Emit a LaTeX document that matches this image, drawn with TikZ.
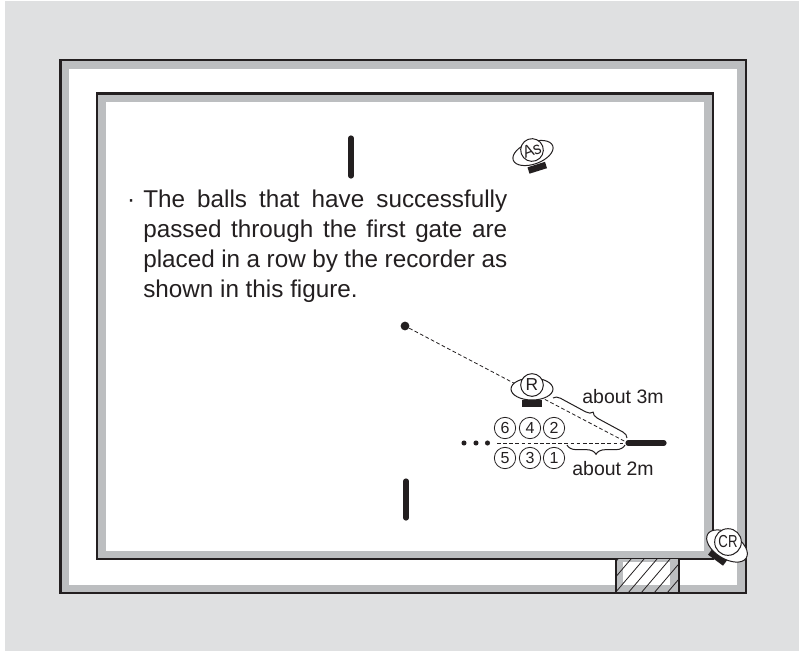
\documentclass[tikz,border=0pt]{standalone}
\usepackage{fontspec}
\setmainfont{Liberation Sans}
\usetikzlibrary{shapes.geometric,decorations.pathreplacing}
\definecolor{pagegray}{HTML}{DFE0E1}
\definecolor{bandgray}{HTML}{BCBEC0}
\definecolor{inkblack}{HTML}{231F20}
\begin{document}
\begin{tikzpicture}[x=0.75pt, y=-0.75pt, every node/.style={font=\fontsize{14.6pt}{18pt}\selectfont, text=inkblack, inner sep=0pt},
	frameline/.style={draw=inkblack, line width=1.9pt},
	gatebar/.style={inkblack, line width=3.9pt, line cap=round},
	markbar/.style={inkblack, line width=5pt},
	flight/.style={inkblack, line width=0.6pt, dash pattern=on 2.8pt off 1.8pt},
	bodyshape/.style={ellipse, draw=inkblack, fill=white, line width=0.75pt, minimum width=31.5pt, minimum height=16.5pt},
	headshape/.style={circle, draw=inkblack, fill=white, line width=0.75pt, minimum size=17pt, font=\fontsize{13pt}{14pt}\selectfont},
	ballno/.style={circle, draw=inkblack, line width=0.6pt, minimum size=16pt, font=\fontsize{12pt}{13pt}\selectfont},
	bracket/.style={draw=inkblack, line width=0.75pt, decorate, decoration={brace, amplitude=5pt}}]
	\useasboundingbox (0,0) rectangle (799,651);
	\fill[pagegray] (5,1) rectangle (799,651);
	% court frames
	\fill[bandgray] (60.5,60) rectangle (746,593);
	\fill[white] (69,69) rectangle (737,585);
	\fill[bandgray] (97,93.5) rectangle (713,559);
	\fill[white] (105.5,102) rectangle (704,551);
	\draw[frameline] (60.5,60) rectangle (746,593);
	\draw[frameline] (97,93.5) rectangle (713,559);
	% hatched part
	\fill[bandgray] (616,559) rectangle (679,593);
	\fill[white] (623,562) rectangle (670,585);
	\begin{scope}
		\clip (616,559) rectangle (679,593);
		\foreach \x in {576,589,...,680} {
			\draw[inkblack, line width=0.6pt] (\x,593) -- (\x+29,559);
		}
	\end{scope}
	\draw[inkblack, line width=0.9pt] (616,559) -- (616,593) (679,559) -- (679,593);
	\draw[frameline] (615,593) -- (680,593);
	% gates
	\coordinate (gateAtop) at (351,138);
	\coordinate (gateAbot) at (351,176);
	\coordinate (gateBtop) at (406,481);
	\coordinate (gateBbot) at (406,518);
	\coordinate (gateCleft) at (628,443);
	\coordinate (gateCright) at (664,443);
	\draw[gatebar] (gateAtop) -- (gateAbot);
	\draw[gatebar] (gateBtop) -- (gateBbot);
	% ball lines
	\node[circle, fill=inkblack, minimum size=6.6pt] (ball) at (405,326) {};
	\coordinate (rowEnd) at (497,443);
	\draw[flight] (ball) -- (gateCleft);
	\draw[flight] (rowEnd) -- (gateCleft);
	\draw[gatebar] (gateCleft) -- (gateCright);
	\foreach \x/\n in {464/a, 476/b, 487.5/c} {
		\node[circle, fill=inkblack, minimum size=3.8pt] (dot\n) at (\x,443) {};
	}
	% balls in a row
	\foreach \n/\x/\y in {6/505/428, 4/530/428, 2/554/428, 5/505/458, 3/530/458, 1/554/458} {
		\node[ballno] (no\n) at (\x,\y) {\n};
	}
	% recorder
	\coordinate (barRa) at (522,403.5);
	\coordinate (barRb) at (542,403.5);
	\draw[markbar] (barRa) -- (barRb);
	\node[bodyshape] (bodyR) at (532,389) {};
	\node[headshape] (headR) at (532,385) {R};
	% assistant
	\coordinate (barAa) at (528.5,170.5);
	\coordinate (barAb) at (546,165);
	\draw[markbar] (barAa) -- (barAb);
	\node[bodyshape, rotate=20] (bodyAs) at (533,153) {};
	\node[headshape, rotate=20] (headAs) at (532,150) {\scalebox{0.9}[1]{As}};
	% chief recorder
	\coordinate (barCa) at (710,552);
	\coordinate (barCb) at (725,563);
	\draw[markbar] (barCa) -- (barCb);
	\node[bodyshape, rotate=-32, minimum width=34pt, minimum height=19pt] (bodyCR) at (727,546) {};
	\node[headshape, minimum size=20pt] (headCR) at (728,542) {\scalebox{0.76}[1]{CR}};
	% distances
	\coordinate (braceAa) at (553,398);
	\coordinate (braceAb) at (627,438);
	\coordinate (braceBa) at (567,445);
	\coordinate (braceBb) at (625,445);
	\draw[bracket] (braceAa) -- (braceAb);
	\draw[bracket, decoration={amplitude=7pt}] (braceBb) -- (braceBa);
	\node (labelA) at (623,397) {about 3m};
	\node (labelB) at (613,469) {about 2m};
	% note
	\node[anchor=north west, text width=273pt, align=justify, font=\fontsize{18.2pt}{22.5pt}\selectfont] (note) at (143,189.5) {\leavevmode\llap{·\hspace{6pt}}The balls that have successfully\linebreak passed through the first gate are\linebreak placed in a row by the recorder as\linebreak shown in this figure.};
\end{tikzpicture}
\end{document}
